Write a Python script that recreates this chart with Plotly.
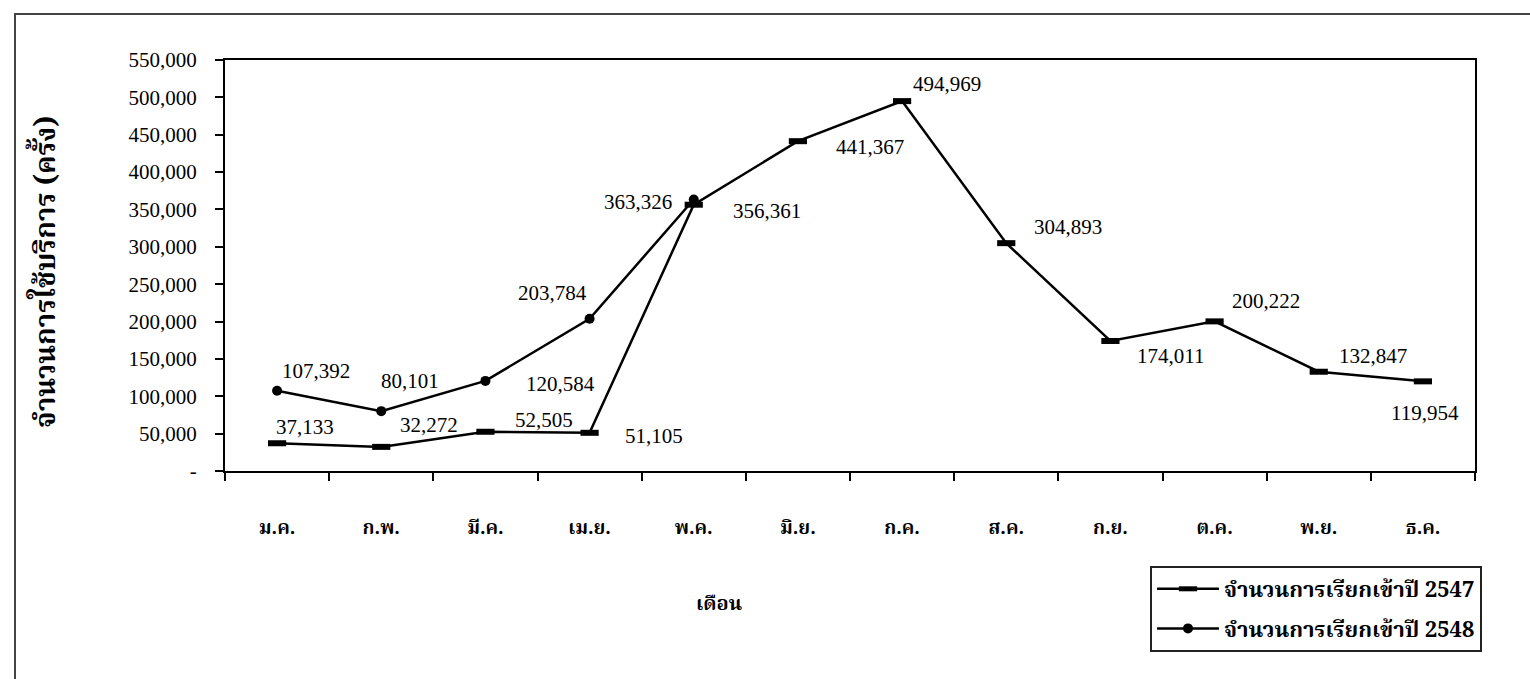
import plotly.graph_objects as go

# Monthly call volumes (Thai Buddhist-era years 2547 / 2548)
months = ["ม.ค.", "ก.พ.", "มี.ค.", "เม.ย.", "พ.ค.", "มิ.ย.",
          "ก.ค.", "ส.ค.", "ก.ย.", "ต.ค.", "พ.ย.", "ธ.ค."]
calls_2547 = [37133, 32272, 52505, 51105, 356361, 441367,
              494969, 304893, 174011, 200222, 132847, 119954]
calls_2548 = [107392, 80101, 120584, 203784, 363326]

series_names = ["จำนวนการเรียกเข้าปี 2547", "จำนวนการเรียกเข้าปี 2548"]

y_tickvals = [0, 50000, 100000, 150000, 200000, 250000,
              300000, 350000, 400000, 450000, 500000, 550000]
y_ticktext = ["-" if v == 0 else f"{v:,}" for v in y_tickvals]

# pixel offsets (dx, dy) of each value label from its point
offsets_2547 = [(28, -16), (48, -22), (59, -12), (64, 3), (73, 6), (72, 6),
                (45, -17), (62, -16), (60, 15), (51, -20), (54, -16), (2, 32)]
offsets_2548 = [(39, -20), (29, -30), (75, 3), (-37, -26), (-56, 2)]

NUM_FONT = "Liberation Serif, Times New Roman, serif"
THAI_FONT = "Noto Serif Thai, Noto Sans Thai, Liberation Serif, sans-serif"

fig = go.Figure()
fig.add_trace(go.Scatter(
    x=months, y=calls_2547, name=series_names[0], mode="lines+markers",
    line=dict(color="black", width=2.5),
    marker=dict(symbol="line-ew-open", size=13, color="black",
                line=dict(color="black", width=6)),
    legendgroup="a",
))
fig.add_trace(go.Scatter(
    x=months[:len(calls_2548)], y=calls_2548, name=series_names[1],
    mode="lines+markers",
    line=dict(color="black", width=2.5),
    marker=dict(symbol="circle", size=10, color="black"),
    legendgroup="b",
))

annotations = []
for vals, offs in ((calls_2547, offsets_2547), (calls_2548, offsets_2548)):
    for m, v, (dx, dy) in zip(months, vals, offs):
        annotations.append(dict(
            x=m, y=v, xref="x", yref="y", text=f"{v:,}", showarrow=False,
            xshift=dx, yshift=-dy, xanchor="center", yanchor="middle",
            font=dict(family=NUM_FONT, size=21, color="black"),
        ))

# axis titles
annotations.append(dict(
    x=(719 - 225) / 1250, y=(471 - 605) / 411, xref="paper", yref="paper",
    text="<b>เดือน</b>", showarrow=False, xanchor="center", yanchor="middle",
    font=dict(family=THAI_FONT, size=20, color="black"),
))
annotations.append(dict(
    x=(47 - 225) / 1250, y=(471 - 272) / 411, xref="paper", yref="paper",
    text="<b>จำนวนการใช้บริการ (ครั้ง)</b>", showarrow=False, textangle=-90,
    xanchor="center", yanchor="middle",
    font=dict(family=THAI_FONT, size=28, color="black"),
))

fig.update_layout(
    width=1530, height=679,
    margin=dict(l=225, r=55, t=60, b=208),
    paper_bgcolor="white", plot_bgcolor="white",
    showlegend=True,
    legend=dict(
        x=(1150 - 225) / 1250, y=(471 - 566) / 411,
        xanchor="left", yanchor="top",
        bordercolor="#222", borderwidth=2, bgcolor="white",
        font=dict(family=THAI_FONT, size=22, color="black", weight="bold"),
        itemwidth=62, tracegroupgap=8,
    ),
    annotations=annotations,
    shapes=[dict(
        type="rect", xref="paper", yref="paper",
        x0=(15 - 225) / 1250, x1=(1532 - 225) / 1250,
        y0=(471 - 700) / 411, y1=(471 - 14) / 411,
        line=dict(color="#444", width=2), layer="below",
    )],
)

fig.update_xaxes(
    type="category", range=[-0.5, 11.5],
    showline=True, linecolor="black", linewidth=2, mirror=True,
    ticks="outside", ticklen=8, tickwidth=1.5, tickcolor="black",
    tickson="boundaries", ticklabelstandoff=38,
    showgrid=False, zeroline=False,
    tickfont=dict(family=THAI_FONT, size=19, color="black", weight="bold"),
)
fig.update_yaxes(
    range=[0, 550000], tickvals=y_tickvals, ticktext=y_ticktext,
    showline=True, linecolor="black", linewidth=2, mirror=True,
    ticks="outside", ticklen=8, tickwidth=1.5, tickcolor="black",
    ticklabelstandoff=14,
    showgrid=False, zeroline=False,
    tickfont=dict(family=NUM_FONT, size=21, color="black"),
)

fig.write_html("out.html")
